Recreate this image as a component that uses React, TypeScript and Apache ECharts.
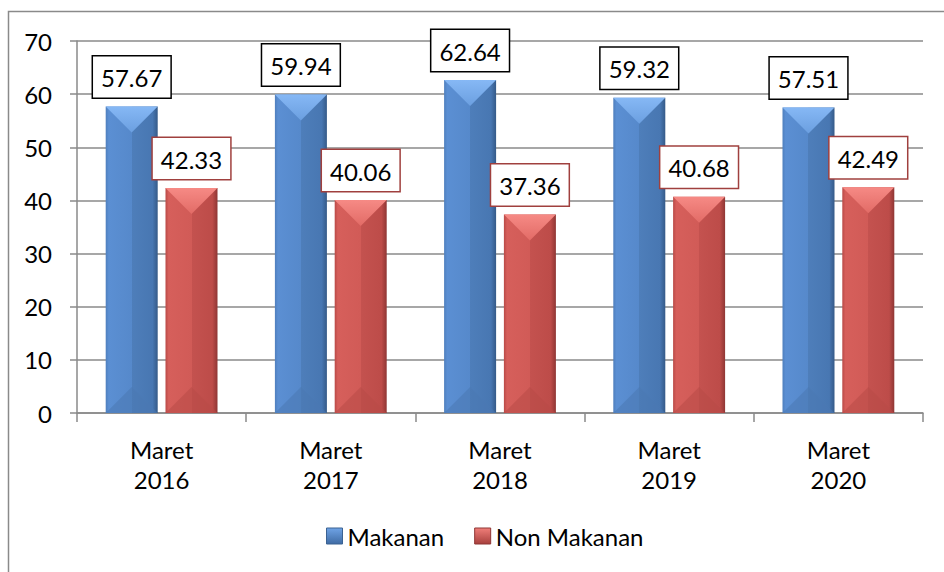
import React, { useEffect, useRef } from "react";
import * as echarts from "echarts";

const categories = ["Maret\n2016", "Maret\n2017", "Maret\n2018", "Maret\n2019", "Maret\n2020"];
const makanan = [57.67, 59.94, 62.64, 59.32, 57.51];
const nonMakanan = [42.33, 40.06, 37.36, 40.68, 42.49];
const seriesNames = ["Makanan", "Non Makanan"];
const yTicks = { min: 0, max: 70, interval: 10 };

const FONT = "Lato";
const BAR_W = 52;
const GAP_RATIO = 0.15;

const blue = {
  body: new echarts.graphic.LinearGradient(0, 0, 1, 0, [
    { offset: 0, color: "#4f7fbd" },
    { offset: 0.06, color: "#5b8fd3" },
    { offset: 0.5, color: "#5689cb" },
    { offset: 0.5, color: "#4e7eba" },
    { offset: 0.9, color: "#4877b2" },
    { offset: 1, color: "#355a88" },
  ]),
  top: new echarts.graphic.LinearGradient(0, 0, 0, 1, [
    { offset: 0, color: "#86b8f5" },
    { offset: 1, color: "#6b9fe0" },
  ]),
  bottom: "#4a78b2",
  legend: new echarts.graphic.LinearGradient(0, 0, 0, 1, [
    { offset: 0, color: "#6fa3e6" },
    { offset: 1, color: "#3f6ba4" },
  ]),
  border: "#000000",
};
const red = {
  body: new echarts.graphic.LinearGradient(0, 0, 1, 0, [
    { offset: 0, color: "#b94a47" },
    { offset: 0.06, color: "#d65f5b" },
    { offset: 0.5, color: "#d15b57" },
    { offset: 0.5, color: "#c4524f" },
    { offset: 0.9, color: "#bd4c49" },
    { offset: 1, color: "#8f3634" },
  ]),
  top: new echarts.graphic.LinearGradient(0, 0, 0, 1, [
    { offset: 0, color: "#f68a85" },
    { offset: 1, color: "#e26b66" },
  ]),
  bottom: "#b84a47",
  legend: new echarts.graphic.LinearGradient(0, 0, 0, 1, [
    { offset: 0, color: "#f07e79" },
    { offset: 1, color: "#a8403d" },
  ]),
  border: "#a0403e",
};

function bevelSeries(values: number[], sign: number, pal: any) {
  return {
    type: "custom",
    name: "bevel" + sign,
    z: 5,
    silent: true,
    data: values.map((v, i) => [i, v]),
    encode: { x: 0, y: 1 },
    renderItem: (params: any, api: any) => {
      const x = api.value(0);
      const v = api.value(1);
      const p0 = api.coord([x, 0]);
      const p1 = api.coord([x, v]);
      const gap = BAR_W * GAP_RATIO;
      const cx = p0[0] + (sign * (BAR_W + gap)) / 2;
      const l = cx - BAR_W / 2;
      const r = cx + BAR_W / 2;
      const t = p1[1];
      const b = p0[1];
      const d = BAR_W / 2;
      return {
        type: "group",
        children: [
          { type: "polygon", shape: { points: [[l, t], [r, t], [cx, t + d]] }, style: { fill: pal.top } },
          { type: "polygon", shape: { points: [[l, b], [r, b], [cx, b - d]] }, style: { fill: pal.bottom, opacity: 0.55 } },
        ],
      };
    },
  };
}

export default function App() {
  const ref = useRef<HTMLDivElement>(null);
  useEffect(() => {
    if (!ref.current) return;
    const chart = echarts.init(ref.current, undefined, { renderer: "svg" });
    const labelBase = {
      show: true,
      position: "top",
      distance: 9,
      fontFamily: FONT,
      fontSize: 24,
      color: "#000",
      backgroundColor: "#fff",
      borderWidth: 1.5,
      padding: [7, 8, 6, 8],
      lineHeight: 28,
    };
    chart.setOption({
      animation: false,
      textStyle: { fontFamily: FONT },
      graphic: [
        {
          type: "rect",
          shape: { x: 8.5, y: 11.5, width: 1200, height: 1200 },
          style: { fill: "none", stroke: "#8a8a8a", lineWidth: 1.5 },
          silent: true,
        },
      ],
      grid: { left: 77, right: 21, top: 41, bottom: 159, containLabel: false },
      legend: {
        left: 321,
        top: 519,
        itemWidth: 16,
        itemHeight: 16,
        itemGap: 30,
        icon: "rect",
        textStyle: { fontFamily: FONT, fontSize: 24, color: "#000" },
        data: [
          { name: seriesNames[0], itemStyle: { color: blue.legend, borderColor: "#3b6292", borderWidth: 1 } },
          { name: seriesNames[1], itemStyle: { color: red.legend, borderColor: "#8f3634", borderWidth: 1 } },
        ],
      },
      xAxis: {
        type: "category",
        data: categories,
        axisLine: { lineStyle: { color: "#8a8a8a", width: 1.5 } },
        axisTick: { show: true, length: 9, alignWithLabel: false, lineStyle: { color: "#8a8a8a", width: 1.5 } },
        axisLabel: { fontFamily: FONT, fontSize: 24, color: "#000", lineHeight: 30, margin: 21, interval: 0 },
      },
      yAxis: {
        type: "value",
        min: yTicks.min,
        max: yTicks.max,
        interval: yTicks.interval,
        axisLine: { show: true, lineStyle: { color: "#8a8a8a", width: 1.5 } },
        axisTick: { show: true, length: 7, lineStyle: { color: "#8a8a8a", width: 1.5 } },
        splitLine: { lineStyle: { color: "#8a8a8a", width: 1.5 } },
        axisLabel: { fontFamily: FONT, fontSize: 24, color: "#000", margin: 25 },
      },
      series: [
        {
          type: "bar",
          name: seriesNames[0],
          data: makanan,
          barWidth: BAR_W,
          barGap: GAP_RATIO * 100 + "%",
          itemStyle: { color: blue.body },
          label: { ...labelBase, borderColor: blue.border, formatter: (p: any) => p.value.toFixed(2) },
          z: 3,
        },
        {
          type: "bar",
          name: seriesNames[1],
          data: nonMakanan,
          barWidth: BAR_W,
          barGap: GAP_RATIO * 100 + "%",
          itemStyle: { color: red.body },
          label: { ...labelBase, borderColor: red.border, formatter: (p: any) => p.value.toFixed(2) },
          z: 3,
        },
        bevelSeries(makanan, -1, blue),
        bevelSeries(nonMakanan, 1, red),
      ],
    });
    return () => chart.dispose();
  }, []);
  return (
    <div
      ref={ref}
      style={{ position: "fixed", left: 0, top: 0, width: 944, height: 572, background: "#fff" }}
    />
  );
}
